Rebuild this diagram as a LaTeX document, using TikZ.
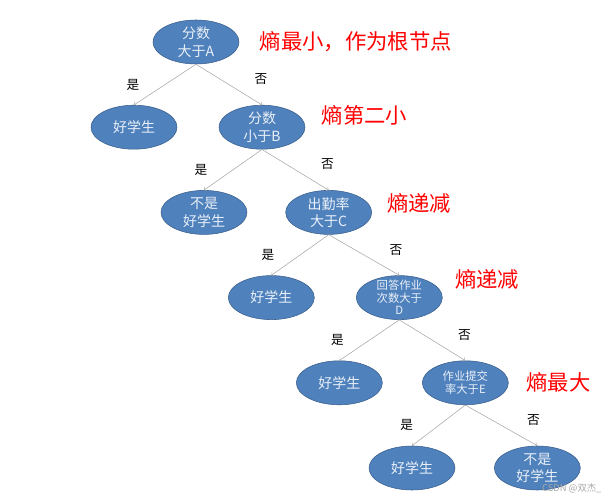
\documentclass[tikz,border=0pt]{standalone}
\usepackage{fontspec}
\setmainfont{Noto Sans CJK SC}
\usetikzlibrary{shapes,arrows,positioning}
\definecolor{nodeblue}{HTML}{4F81BD}
\definecolor{nodeedge}{HTML}{385D8A}
\definecolor{nodetext}{HTML}{EAF0F8}
\tikzstyle{dnode}=[ellipse,draw=nodeedge,fill=nodeblue,text=nodetext,align=center,minimum width=64.5pt,minimum height=33pt,inner sep=0pt,font=\fontsize{10.5}{13}\selectfont]
\tikzstyle{smalltxt}=[inner sep=-1.5pt,font=\fontsize{8.5}{9.3}\selectfont]
\tikzstyle{note}=[text=red,font=\fontsize{16}{18}\selectfont]
\tikzstyle{arr}=[->,gray!70]
\tikzstyle{yeslbl}=[midway,xshift=-24pt,text=black,font=\fontsize{9.5}{9.5}\selectfont]
\tikzstyle{nolbl}=[midway,xshift=24pt,yshift=4pt,text=black,font=\fontsize{9.5}{9.5}\selectfont]

\begin{document}
\begin{tikzpicture}[x=0.75pt,y=-0.75pt,node distance=30.5pt]
\useasboundingbox (0,0) rectangle (613,495);
\node[dnode] (A) at (196,42) {分数\\大于A};
\node[dnode, below=of A, xshift=-46.5pt] (A1) {好学生};
\node[dnode, below=of A, xshift=49.5pt] (B) {分数\\小于B};
\node[dnode, below=of B, xshift=-43.5pt] (B1) {不是\\好学生};
\node[dnode, below=of B, xshift=50pt] (C) {出勤率\\大于C};
\node[dnode, below=of C, xshift=-43pt] (C1) {好学生};
\node[dnode, smalltxt, below=of C, xshift=53pt] (D) {回答作业\\次数大于\\D};
\node[dnode, below=of D, xshift=-45pt] (D1) {好学生};
\node[dnode, smalltxt, below=of D, xshift=49.5pt] (E) {作业提交\\率大于E};
\node[dnode, below=of E, xshift=-40pt] (E1) {好学生};
\node[dnode, below=of E, xshift=54pt] (E2) {不是\\好学生};
% entropy notes
\node[note, right=12pt of A] (nA) {熵最小，作为根节点};
\node[note, right=9pt of B, yshift=9pt] (nB) {熵第二小};
\node[note, right=8pt of C, yshift=7pt] (nC) {熵递减};
\node[note, right=6pt of D, yshift=14pt] (nD) {熵递减};
\node[note, right=10pt of E] (nE) {熵最大};
\draw[arr] (A.south) -- node[yeslbl] {是} (A1.north);
\draw[arr] (A.south) -- node[nolbl] {否} (B.north);
\draw[arr] (B.south) -- node[yeslbl] {是} (B1.north);
\draw[arr] (B.south) -- node[nolbl] {否} (C.north);
\draw[arr] (C.south) -- node[yeslbl] {是} (C1.north);
\draw[arr] (C.south) -- node[nolbl] {否} (D.north);
\draw[arr] (D.south) -- node[yeslbl] {是} (D1.north);
\draw[arr] (D.south) -- node[nolbl] {否} (E.north);
\draw[arr] (E.south) -- node[yeslbl] {是} (E1.north);
\draw[arr] (E.south) -- node[nolbl] {否} (E2.north);
\node[text=gray!70, font=\fontsize{7}{7}\selectfont, anchor=south east, inner sep=1pt] (wm) at (603,495) {CSDN @双杰\_};
\end{tikzpicture}
\end{document}
